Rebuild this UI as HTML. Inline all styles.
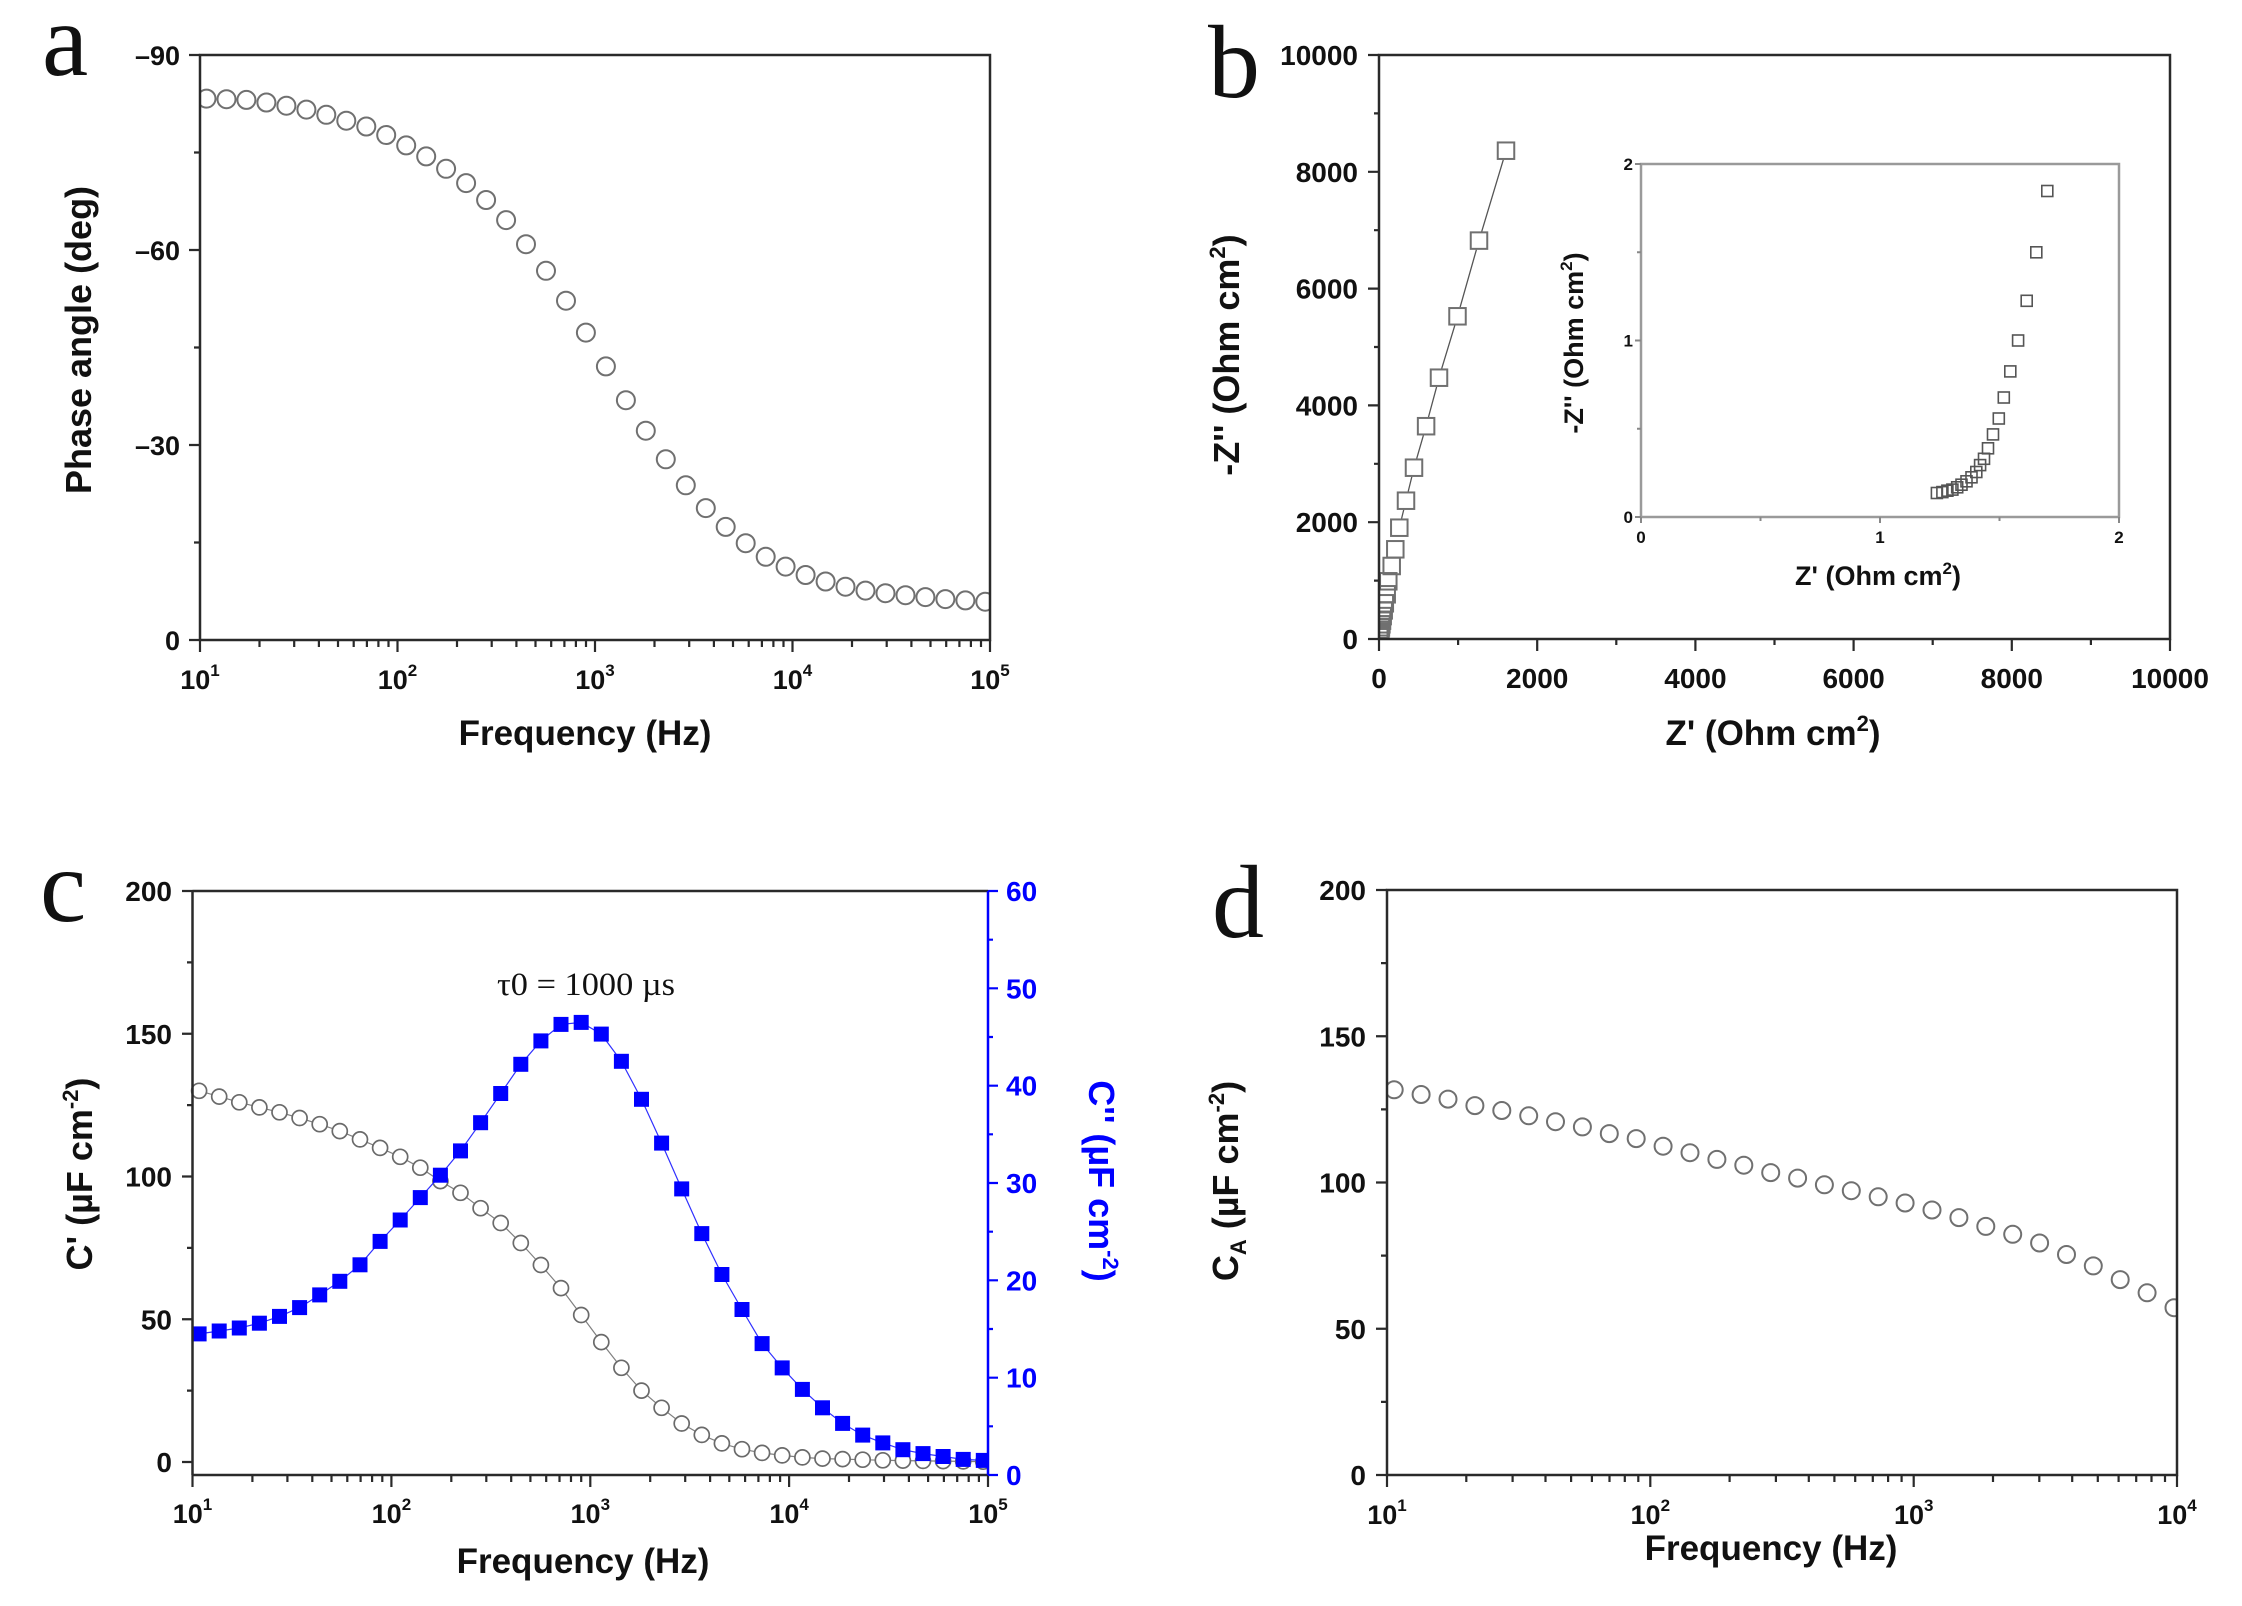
<!DOCTYPE html>
<html>
<head>
<meta charset="utf-8">
<style>
html,body{margin:0;padding:0;background:#fff;}
svg{display:block;}
.t{font-family:"Liberation Sans",Arial,sans-serif;font-weight:bold;fill:#111;}
.s{font-family:"Liberation Serif","Times New Roman",serif;fill:#111;}
</style>
</head>
<body>
<svg width="2242" height="1606" viewBox="0 0 2242 1606" xmlns="http://www.w3.org/2000/svg">
<defs>
<clipPath id="ca"><rect x="200" y="55" width="790" height="585"/></clipPath>
<clipPath id="cb"><rect x="1379" y="55" width="791" height="584"/></clipPath>
<clipPath id="cc"><rect x="188" y="885" width="800" height="590"/></clipPath>
<clipPath id="cd"><rect x="1387" y="890" width="790" height="585"/></clipPath>
</defs>
<rect width="2242" height="1606" fill="#fff"/>

<!-- Panel letters -->
<text class="s" x="42" y="75" font-size="104">a</text>
<text class="s" x="1208" y="97" font-size="104">b</text>
<text class="s" x="40" y="921" font-size="104">c</text>
<text class="s" x="1212" y="937" font-size="104">d</text>

<!-- ================= PANEL A ================= -->
<g clip-path="url(#ca)" fill="none" stroke="#707070" stroke-width="2">
<circle cx="206.5" cy="98.6" r="9"/><circle cx="226.5" cy="99.2" r="9"/><circle cx="246.4" cy="99.9" r="9"/><circle cx="266.4" cy="102.5" r="9"/><circle cx="286.4" cy="105.7" r="9"/><circle cx="306.4" cy="109.6" r="9"/><circle cx="326.3" cy="114.8" r="9"/><circle cx="346.3" cy="120.7" r="9"/><circle cx="366.3" cy="126.5" r="9"/><circle cx="386.2" cy="135.0" r="9"/>
<circle cx="406.2" cy="145.4" r="9"/><circle cx="426.2" cy="156.4" r="9"/><circle cx="446.1" cy="168.8" r="9"/><circle cx="466.1" cy="183.1" r="9"/><circle cx="486.1" cy="200.0" r="9"/><circle cx="506.1" cy="220.1" r="9"/><circle cx="526.0" cy="244.2" r="9"/><circle cx="546.0" cy="270.8" r="9"/><circle cx="566.0" cy="300.7" r="9"/><circle cx="585.9" cy="332.6" r="9"/>
<circle cx="605.9" cy="366.4" r="9"/><circle cx="625.9" cy="400.2" r="9"/><circle cx="645.8" cy="430.7" r="9"/><circle cx="665.8" cy="459.3" r="9"/><circle cx="685.8" cy="485.3" r="9"/><circle cx="705.8" cy="508.1" r="9"/><circle cx="725.7" cy="526.9" r="9"/><circle cx="745.7" cy="543.2" r="9"/><circle cx="765.7" cy="556.8" r="9"/><circle cx="785.6" cy="566.6" r="9"/>
<circle cx="805.6" cy="575.0" r="9"/><circle cx="825.6" cy="581.5" r="9"/><circle cx="845.5" cy="586.7" r="9"/><circle cx="865.5" cy="590.6" r="9"/><circle cx="885.5" cy="593.2" r="9"/><circle cx="905.5" cy="595.2" r="9"/><circle cx="925.4" cy="597.1" r="9"/><circle cx="945.4" cy="599.1" r="9"/><circle cx="965.4" cy="600.4" r="9"/><circle cx="985.3" cy="601.7" r="9"/>
</g>
<rect x="200" y="55" width="790" height="585" fill="none" stroke="#2a2a2a" stroke-width="2.5"/>
<path stroke="#2a2a2a" stroke-width="2.2" fill="none" d="
M189 55H200M189 250H200M189 445H200M189 640H200
M194 152.5H200M194 347.5H200M194 542.5H200
M200 640V652M397.5 640V652M595 640V652M792.5 640V652M990 640V652
M259.5 640V647M294.2 640V647M318.9 640V647M338 640V647M353.7 640V647M366.9 640V647M378.4 640V647M388.5 640V647
M457 640V647M491.7 640V647M516.4 640V647M535.5 640V647M551.2 640V647M564.4 640V647M575.9 640V647M586 640V647
M654.5 640V647M689.2 640V647M713.9 640V647M733 640V647M748.7 640V647M761.9 640V647M773.4 640V647M783.5 640V647
M852 640V647M886.7 640V647M911.4 640V647M930.5 640V647M946.2 640V647M959.4 640V647M970.9 640V647M981 640V647"/>
<g class="t" font-size="27" text-anchor="end">
<text x="180" y="65">–90</text>
<text x="180" y="260">–60</text>
<text x="180" y="455">–30</text>
<text x="180" y="650">0</text>
</g>
<g class="t" font-size="27" text-anchor="middle">
<text x="200" y="689">10<tspan dy="-13" font-size="17">1</tspan></text>
<text x="397.5" y="689">10<tspan dy="-13" font-size="17">2</tspan></text>
<text x="595" y="689">10<tspan dy="-13" font-size="17">3</tspan></text>
<text x="792.5" y="689">10<tspan dy="-13" font-size="17">4</tspan></text>
<text x="990" y="689">10<tspan dy="-13" font-size="17">5</tspan></text>
</g>
<text class="t" font-size="35" x="585" y="745" text-anchor="middle">Frequency (Hz)</text>
<text class="t" font-size="36" text-anchor="middle" transform="translate(91,340) rotate(-90)">Phase angle (deg)</text>

<!-- ================= PANEL B ================= -->
<g stroke="#555" stroke-width="1.3" fill="none">
<path d="M1503.3 159.8L1481.7 231.5M1476.4 249.7L1460.1 307.2M1454.8 325.4L1441.7 368.6M1436.6 386.9L1428.5 417.0M1423.4 435.3L1416.7 458.6M1411.8 476.9L1408.2 491.5M1403.7 509.9L1401.6 518.5"/>
</g>
<g clip-path="url(#cb)" fill="none" stroke="#707070" stroke-width="2">
<rect x="1497.75" y="142.45" width="16.5" height="16.5"/>
<rect x="1470.75" y="232.35" width="16.5" height="16.5"/>
<rect x="1449.25" y="308.05" width="16.5" height="16.5"/>
<rect x="1430.75" y="369.45" width="16.5" height="16.5"/>
<rect x="1417.85" y="417.95" width="16.5" height="16.5"/>
<rect x="1405.75" y="459.45" width="16.5" height="16.5"/>
<rect x="1397.75" y="492.45" width="16.5" height="16.5"/>
<rect x="1391.05" y="519.45" width="16.5" height="16.5"/>
<rect x="1387.05" y="541.05" width="16.5" height="16.5"/>
<rect x="1383.45" y="557.75" width="16.5" height="16.5"/>
<rect x="1380.05" y="573.05" width="16.5" height="16.5"/>
<rect x="1378.45" y="586.05" width="16.5" height="16.5"/>
<rect x="1376.55" y="595.05" width="16.5" height="16.5"/>
<rect x="1375.45" y="602.15" width="16.5" height="16.5"/>
<rect x="1374.45" y="607.85" width="16.5" height="16.5"/>
<rect x="1373.75" y="612.45" width="16.5" height="16.5"/>
<rect x="1373.15" y="616.05" width="16.5" height="16.5"/>
<rect x="1372.65" y="619.05" width="16.5" height="16.5"/>
<rect x="1372.25" y="621.45" width="16.5" height="16.5"/>
<rect x="1371.95" y="623.25" width="16.5" height="16.5"/>
<rect x="1371.75" y="624.75" width="16.5" height="16.5"/>
<rect x="1371.55" y="625.95" width="16.5" height="16.5"/>
<rect x="1371.35" y="626.85" width="16.5" height="16.5"/>
<rect x="1371.25" y="627.75" width="16.5" height="16.5"/>
<rect x="1371.15" y="628.25" width="16.5" height="16.5"/>
<rect x="1371.05" y="628.75" width="16.5" height="16.5"/>
</g>
<rect x="1379" y="55" width="791" height="584" fill="none" stroke="#2a2a2a" stroke-width="2.5"/>
<path stroke="#2a2a2a" stroke-width="2.2" fill="none" d="
M1368 639H1379M1368 522.2H1379M1368 405.4H1379M1368 288.6H1379M1368 171.8H1379M1368 55H1379
M1374 580.6H1379M1374 463.8H1379M1374 347H1379M1374 230.2H1379M1374 113.4H1379
M1379 639V651M1537.2 639V651M1695.4 639V651M1853.6 639V651M2011.8 639V651M2170 639V651
M1458.1 639V645M1616.3 639V645M1774.5 639V645M1932.7 639V645M2090.9 639V645"/>
<g class="t" font-size="28" text-anchor="end">
<text x="1358" y="649">0</text>
<text x="1358" y="532.2">2000</text>
<text x="1358" y="415.4">4000</text>
<text x="1358" y="298.6">6000</text>
<text x="1358" y="181.8">8000</text>
<text x="1358" y="65">10000</text>
</g>
<g class="t" font-size="28" text-anchor="middle">
<text x="1379" y="688">0</text>
<text x="1537.2" y="688">2000</text>
<text x="1695.4" y="688">4000</text>
<text x="1853.6" y="688">6000</text>
<text x="2011.8" y="688">8000</text>
<text x="2170" y="688">10000</text>
</g>
<text class="t" font-size="35" x="1773" y="745" text-anchor="middle">Z' (Ohm cm<tspan dy="-14" font-size="22">2</tspan><tspan dy="14">)</tspan></text>
<text class="t" font-size="36" text-anchor="middle" transform="translate(1239,355) rotate(-90)">-Z'' (Ohm cm<tspan dy="-14" font-size="22">2</tspan><tspan dy="14">)</tspan></text>

<!-- Inset -->
<g fill="none" stroke="#555" stroke-width="1.6">
<rect x="2041.8" y="185.5" width="11" height="11"/>
<rect x="2030.8" y="246.8" width="11" height="11"/>
<rect x="2021.2" y="295.3" width="11" height="11"/>
<rect x="2012.6" y="335.0" width="11" height="11"/>
<rect x="2004.8" y="365.9" width="11" height="11"/>
<rect x="1998.3" y="392.0" width="11" height="11"/>
<rect x="1993.3" y="413.0" width="11" height="11"/>
<rect x="1987.5" y="428.9" width="11" height="11"/>
<rect x="1982.5" y="442.8" width="11" height="11"/>
<rect x="1978.5" y="453.3" width="11" height="11"/>
<rect x="1974.6" y="459.6" width="11" height="11"/>
<rect x="1970.8" y="466.5" width="11" height="11"/>
<rect x="1966.0" y="471.8" width="11" height="11"/>
<rect x="1961.0" y="475.8" width="11" height="11"/>
<rect x="1956.0" y="479.2" width="11" height="11"/>
<rect x="1951.7" y="481.8" width="11" height="11"/>
<rect x="1946.9" y="484.1" width="11" height="11"/>
<rect x="1941.9" y="485.2" width="11" height="11"/>
<rect x="1936.9" y="486.6" width="11" height="11"/>
<rect x="1931.4" y="487.5" width="11" height="11"/>
</g>
<rect x="1641" y="164" width="478" height="353" fill="none" stroke="#9a9a9a" stroke-width="2.5"/>
<path stroke="#888" stroke-width="2" fill="none" d="
M1641 517V523M1760.5 517V521M1880 517V523M1999.5 517V521M2119 517V523
M1635 517H1641M1637 428.75H1641M1635 340.5H1641M1637 252.25H1641M1635 164H1641"/>
<g class="t" font-size="17" text-anchor="end">
<text x="1633" y="523">0</text>
<text x="1633" y="346.5">1</text>
<text x="1633" y="170">2</text>
</g>
<g class="t" font-size="17" text-anchor="middle">
<text x="1641" y="543">0</text>
<text x="1880" y="543">1</text>
<text x="2119" y="543">2</text>
</g>
<text class="t" font-size="27" x="1878" y="585" text-anchor="middle">Z' (Ohm cm<tspan dy="-11" font-size="17">2</tspan><tspan dy="11">)</tspan></text>
<text class="t" font-size="27" text-anchor="middle" transform="translate(1583,343) rotate(-90)">-Z'' (Ohm cm<tspan dy="-11" font-size="17">2</tspan><tspan dy="11">)</tspan></text>

<!-- ================= PANEL C ================= -->
<g clip-path="url(#cc)">
<polyline fill="none" stroke="#808080" stroke-width="1.2" points="199.1,1090.8 219.2,1096.6 239.3,1102.3 259.4,1107.4 279.5,1112.3 299.6,1118.0 319.7,1124.2 339.8,1131.1 360.0,1139.4 380.1,1147.9 400.2,1156.8 420.3,1167.7 440.4,1181.1 460.5,1192.8 480.6,1208.2 500.7,1223.0 520.8,1243.0 540.9,1265.0 561.0,1288.1 581.2,1315.0 601.3,1342.1 621.4,1367.8 641.5,1390.6 661.6,1407.8 681.7,1423.5 701.8,1434.9 721.9,1443.4 742.0,1449.2 762.1,1452.9 782.2,1455.4 802.4,1457.4 822.5,1458.6 842.6,1459.1 862.7,1459.7 882.8,1460.3 902.9,1460.6 923.0,1460.9 943.1,1461.1 963.2,1461.4 983.3,1461.7"/>
<g fill="#fff" stroke="#6a6a6a" stroke-width="1.7">
<circle cx="199.1" cy="1090.8" r="7.5"/><circle cx="219.2" cy="1096.6" r="7.5"/><circle cx="239.3" cy="1102.3" r="7.5"/><circle cx="259.4" cy="1107.4" r="7.5"/><circle cx="279.5" cy="1112.3" r="7.5"/><circle cx="299.6" cy="1118.0" r="7.5"/><circle cx="319.7" cy="1124.2" r="7.5"/><circle cx="339.8" cy="1131.1" r="7.5"/><circle cx="360.0" cy="1139.4" r="7.5"/><circle cx="380.1" cy="1147.9" r="7.5"/>
<circle cx="400.2" cy="1156.8" r="7.5"/><circle cx="420.3" cy="1167.7" r="7.5"/><circle cx="440.4" cy="1181.1" r="7.5"/><circle cx="460.5" cy="1192.8" r="7.5"/><circle cx="480.6" cy="1208.2" r="7.5"/><circle cx="500.7" cy="1223.0" r="7.5"/><circle cx="520.8" cy="1243.0" r="7.5"/><circle cx="540.9" cy="1265.0" r="7.5"/><circle cx="561.0" cy="1288.1" r="7.5"/><circle cx="581.2" cy="1315.0" r="7.5"/>
<circle cx="601.3" cy="1342.1" r="7.5"/><circle cx="621.4" cy="1367.8" r="7.5"/><circle cx="641.5" cy="1390.6" r="7.5"/><circle cx="661.6" cy="1407.8" r="7.5"/><circle cx="681.7" cy="1423.5" r="7.5"/><circle cx="701.8" cy="1434.9" r="7.5"/><circle cx="721.9" cy="1443.4" r="7.5"/><circle cx="742.0" cy="1449.2" r="7.5"/><circle cx="762.1" cy="1452.9" r="7.5"/><circle cx="782.2" cy="1455.4" r="7.5"/>
<circle cx="802.4" cy="1457.4" r="7.5"/><circle cx="822.5" cy="1458.6" r="7.5"/><circle cx="842.6" cy="1459.1" r="7.5"/><circle cx="862.7" cy="1459.7" r="7.5"/><circle cx="882.8" cy="1460.3" r="7.5"/><circle cx="902.9" cy="1460.6" r="7.5"/><circle cx="923.0" cy="1460.9" r="7.5"/><circle cx="943.1" cy="1461.1" r="7.5"/><circle cx="963.2" cy="1461.4" r="7.5"/><circle cx="983.3" cy="1461.7" r="7.5"/>
</g>
<polyline fill="none" stroke="#3030ff" stroke-width="1.2" points="199.1,1333.9 219.2,1331.0 239.3,1328.0 259.4,1323.2 279.5,1316.4 299.6,1307.6 319.7,1294.9 339.8,1281.3 360.0,1264.8 380.1,1241.4 400.2,1220.0 420.3,1197.6 440.4,1175.2 460.5,1150.9 480.6,1122.7 500.7,1093.5 520.8,1064.3 540.9,1040.9 561.0,1024.4 581.2,1022.4 601.3,1034.1 621.4,1061.3 641.5,1099.3 661.6,1143.1 681.7,1188.9 701.8,1233.6 721.9,1274.5 742.0,1309.5 762.1,1343.6 782.2,1367.9 802.4,1389.4 822.5,1407.8 842.6,1423.4 862.7,1435.1 882.8,1442.9 902.9,1449.7 923.0,1453.6 943.1,1456.5 963.2,1459.4 983.3,1460.4"/>
<g fill="#0000ff">
<rect x="191.6" y="1326.4" width="15" height="15"/><rect x="211.7" y="1323.5" width="15" height="15"/><rect x="231.8" y="1320.5" width="15" height="15"/><rect x="251.9" y="1315.7" width="15" height="15"/><rect x="272.0" y="1308.9" width="15" height="15"/><rect x="292.1" y="1300.1" width="15" height="15"/><rect x="312.2" y="1287.4" width="15" height="15"/><rect x="332.3" y="1273.8" width="15" height="15"/><rect x="352.5" y="1257.3" width="15" height="15"/><rect x="372.6" y="1233.9" width="15" height="15"/>
<rect x="392.7" y="1212.5" width="15" height="15"/><rect x="412.8" y="1190.1" width="15" height="15"/><rect x="432.9" y="1167.7" width="15" height="15"/><rect x="453.0" y="1143.4" width="15" height="15"/><rect x="473.1" y="1115.2" width="15" height="15"/><rect x="493.2" y="1086.0" width="15" height="15"/><rect x="513.3" y="1056.8" width="15" height="15"/><rect x="533.4" y="1033.4" width="15" height="15"/><rect x="553.5" y="1016.9" width="15" height="15"/><rect x="573.7" y="1014.9" width="15" height="15"/>
<rect x="593.8" y="1026.6" width="15" height="15"/><rect x="613.9" y="1053.8" width="15" height="15"/><rect x="634.0" y="1091.8" width="15" height="15"/><rect x="654.1" y="1135.6" width="15" height="15"/><rect x="674.2" y="1181.4" width="15" height="15"/><rect x="694.3" y="1226.1" width="15" height="15"/><rect x="714.4" y="1267.0" width="15" height="15"/><rect x="734.5" y="1302.0" width="15" height="15"/><rect x="754.6" y="1336.1" width="15" height="15"/><rect x="774.7" y="1360.4" width="15" height="15"/>
<rect x="794.9" y="1381.9" width="15" height="15"/><rect x="815.0" y="1400.3" width="15" height="15"/><rect x="835.1" y="1415.9" width="15" height="15"/><rect x="855.2" y="1427.6" width="15" height="15"/><rect x="875.3" y="1435.4" width="15" height="15"/><rect x="895.4" y="1442.2" width="15" height="15"/><rect x="915.5" y="1446.1" width="15" height="15"/><rect x="935.6" y="1449.0" width="15" height="15"/><rect x="955.7" y="1451.9" width="15" height="15"/><rect x="975.8" y="1452.9" width="15" height="15"/>
</g>
</g>
<path stroke="#2a2a2a" stroke-width="2.5" fill="none" d="M192.5 891H988M192.5 1475H988M192.5 891V1475"/>
<path stroke="#0000ff" stroke-width="2.5" fill="none" d="M988 891V1475"/>
<path stroke="#2a2a2a" stroke-width="2.2" fill="none" d="
M182 1462H192.5M182 1319.25H192.5M182 1176.5H192.5M182 1033.75H192.5M182 891H192.5
M187 1390.6H192.5M187 1247.9H192.5M187 1105.1H192.5M187 962.4H192.5
M192.5 1475V1487M391.4 1475V1487M590.3 1475V1487M789.1 1475V1487M988 1475V1487
M252.4 1475V1482M287.4 1475V1482M312.3 1475V1482M331.5 1475V1482M347.3 1475V1482M360.6 1475V1482M372.1 1475V1482M382.3 1475V1482
M451.3 1475V1482M486.3 1475V1482M511.2 1475V1482M530.4 1475V1482M546.2 1475V1482M559.5 1475V1482M571 1475V1482M581.2 1475V1482
M650.2 1475V1482M685.2 1475V1482M710.1 1475V1482M729.3 1475V1482M745.1 1475V1482M758.4 1475V1482M769.9 1475V1482M780.1 1475V1482
M849 1475V1482M884 1475V1482M908.9 1475V1482M928.1 1475V1482M943.9 1475V1482M957.2 1475V1482M968.7 1475V1482M978.9 1475V1482"/>
<path stroke="#0000ff" stroke-width="2.2" fill="none" d="
M988 1475H998M988 1377.7H998M988 1280.3H998M988 1183H998M988 1085.7H998M988 988.3H998M988 891H998
M988 1426.3H993M988 1329H993M988 1231.7H993M988 1134.3H993M988 1037H993M988 939.7H993"/>
<g class="t" font-size="28" text-anchor="end">
<text x="172" y="1472">0</text>
<text x="172" y="1329.25">50</text>
<text x="172" y="1186.5">100</text>
<text x="172" y="1043.75">150</text>
<text x="172" y="901">200</text>
</g>
<g class="t" font-size="28" style="fill:#0000ff">
<text x="1006" y="1485">0</text>
<text x="1006" y="1387.7">10</text>
<text x="1006" y="1290.3">20</text>
<text x="1006" y="1193">30</text>
<text x="1006" y="1095.7">40</text>
<text x="1006" y="998.3">50</text>
<text x="1006" y="901">60</text>
</g>
<g class="t" font-size="27" text-anchor="middle">
<text x="192.5" y="1523">10<tspan dy="-13" font-size="17">1</tspan></text>
<text x="391.4" y="1523">10<tspan dy="-13" font-size="17">2</tspan></text>
<text x="590.3" y="1523">10<tspan dy="-13" font-size="17">3</tspan></text>
<text x="789.1" y="1523">10<tspan dy="-13" font-size="17">4</tspan></text>
<text x="988" y="1523">10<tspan dy="-13" font-size="17">5</tspan></text>
</g>
<text class="t" font-size="35" x="583" y="1573" text-anchor="middle">Frequency (Hz)</text>
<text class="t" font-size="36" text-anchor="middle" transform="translate(92,1174) rotate(-90)">C' (µF cm<tspan dy="-14" font-size="22">-2</tspan><tspan dy="14">)</tspan></text>
<text class="t" font-size="36" text-anchor="middle" style="fill:#0000ff" transform="translate(1089,1181) rotate(90)">C'' (µF cm<tspan dy="-14" font-size="22">-2</tspan><tspan dy="14">)</tspan></text>
<text class="s" font-size="33" x="497" y="995" textLength="178" lengthAdjust="spacingAndGlyphs">τ0 = 1000 µs</text>

<!-- ================= PANEL D ================= -->
<g clip-path="url(#cd)" fill="none" stroke="#707070" stroke-width="2">
<circle cx="1394.2" cy="1089.8" r="8.5"/><circle cx="1421.1" cy="1094.5" r="8.5"/><circle cx="1448.0" cy="1099.1" r="8.5"/><circle cx="1474.9" cy="1105.6" r="8.5"/><circle cx="1501.8" cy="1110.5" r="8.5"/><circle cx="1528.7" cy="1115.8" r="8.5"/><circle cx="1555.5" cy="1121.7" r="8.5"/><circle cx="1582.4" cy="1126.9" r="8.5"/><circle cx="1609.3" cy="1133.6" r="8.5"/><circle cx="1636.2" cy="1138.6" r="8.5"/>
<circle cx="1663.1" cy="1146.2" r="8.5"/><circle cx="1690.0" cy="1152.7" r="8.5"/><circle cx="1716.9" cy="1159.4" r="8.5"/><circle cx="1743.8" cy="1165.2" r="8.5"/><circle cx="1770.7" cy="1172.6" r="8.5"/><circle cx="1797.6" cy="1178.1" r="8.5"/><circle cx="1824.4" cy="1184.8" r="8.5"/><circle cx="1851.3" cy="1190.7" r="8.5"/><circle cx="1878.2" cy="1196.8" r="8.5"/><circle cx="1905.1" cy="1203.0" r="8.5"/>
<circle cx="1932.0" cy="1210.0" r="8.5"/><circle cx="1958.9" cy="1217.6" r="8.5"/><circle cx="1985.8" cy="1226.4" r="8.5"/><circle cx="2012.7" cy="1234.3" r="8.5"/><circle cx="2039.6" cy="1243.0" r="8.5"/><circle cx="2066.5" cy="1254.5" r="8.5"/><circle cx="2093.3" cy="1265.9" r="8.5"/><circle cx="2120.2" cy="1279.6" r="8.5"/><circle cx="2147.1" cy="1292.8" r="8.5"/><circle cx="2174.0" cy="1307.7" r="8.5"/>
</g>
<rect x="1387" y="890" width="790" height="585" fill="none" stroke="#2a2a2a" stroke-width="2.5"/>
<path stroke="#2a2a2a" stroke-width="2.2" fill="none" d="
M1376 1475H1387M1376 1328.75H1387M1376 1182.5H1387M1376 1036.25H1387M1376 890H1387
M1381 1401.9H1387M1381 1255.6H1387M1381 1109.4H1387M1381 963.1H1387
M1387 1475V1487M1650.3 1475V1487M1913.7 1475V1487M2177 1475V1487
M1466.3 1475V1482M1512.6 1475V1482M1545.5 1475V1482M1571.1 1475V1482M1591.9 1475V1482M1609.5 1475V1482M1624.8 1475V1482M1638.3 1475V1482
M1729.6 1475V1482M1775.9 1475V1482M1808.8 1475V1482M1834.4 1475V1482M1855.2 1475V1482M1872.8 1475V1482M1888.1 1475V1482M1901.6 1475V1482
M1993 1475V1482M2039.3 1475V1482M2072.2 1475V1482M2097.8 1475V1482M2118.6 1475V1482M2136.2 1475V1482M2151.5 1475V1482M2165 1475V1482"/>
<g class="t" font-size="28" text-anchor="end">
<text x="1366" y="1485">0</text>
<text x="1366" y="1338.75">50</text>
<text x="1366" y="1192.5">100</text>
<text x="1366" y="1046.25">150</text>
<text x="1366" y="900">200</text>
</g>
<g class="t" font-size="27" text-anchor="middle">
<text x="1387" y="1524">10<tspan dy="-13" font-size="17">1</tspan></text>
<text x="1650.3" y="1524">10<tspan dy="-13" font-size="17">2</tspan></text>
<text x="1913.7" y="1524">10<tspan dy="-13" font-size="17">3</tspan></text>
<text x="2177" y="1524">10<tspan dy="-13" font-size="17">4</tspan></text>
</g>
<text class="t" font-size="35" x="1771" y="1560" text-anchor="middle">Frequency (Hz)</text>
<text class="t" font-size="36" text-anchor="middle" transform="translate(1238,1181) rotate(-90)">C<tspan dy="8" font-size="22">A</tspan><tspan dy="-8"> (µF cm</tspan><tspan dy="-14" font-size="22">-2</tspan><tspan dy="14">)</tspan></text>
</svg>
</body>
</html>
